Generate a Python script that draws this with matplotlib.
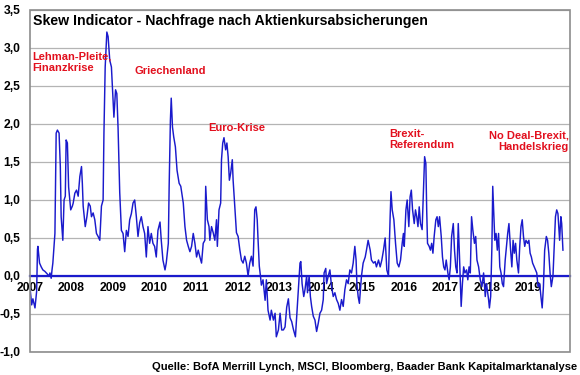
import matplotlib
matplotlib.use("Agg")
import matplotlib.pyplot as plt
from matplotlib.patches import Rectangle
from matplotlib.ticker import FuncFormatter

# Zeitachse in Dezimaljahren, Werte des Skew Indicators
jahr = [
    2007.00, 2007.04, 2007.07, 2007.12, 2007.16, 2007.18, 2007.19, 2007.23, 2007.27, 2007.31,
    2007.36, 2007.41, 2007.46, 2007.48, 2007.51, 2007.53, 2007.55, 2007.60, 2007.63, 2007.66,
    2007.70, 2007.73, 2007.75, 2007.79, 2007.82, 2007.85, 2007.87, 2007.90, 2007.93, 2007.98,
    2008.02, 2008.04, 2008.08, 2008.12, 2008.16, 2008.20, 2008.24, 2008.26, 2008.28, 2008.33,
    2008.37, 2008.41, 2008.45, 2008.48, 2008.52, 2008.56, 2008.60, 2008.64, 2008.68, 2008.72,
    2008.76, 2008.78, 2008.81, 2008.85, 2008.88, 2008.92, 2008.96, 2009.00, 2009.02, 2009.06,
    2009.09, 2009.12, 2009.16, 2009.20, 2009.24, 2009.28, 2009.32, 2009.36, 2009.40, 2009.44,
    2009.48, 2009.52, 2009.56, 2009.60, 2009.64, 2009.68, 2009.72, 2009.76, 2009.80, 2009.84,
    2009.88, 2009.92, 2009.96, 2010.00, 2010.04, 2010.08, 2010.13, 2010.16, 2010.20, 2010.25,
    2010.28, 2010.33, 2010.35, 2010.38, 2010.40, 2010.43, 2010.46, 2010.50, 2010.54, 2010.59,
    2010.63, 2010.69, 2010.73, 2010.77, 2010.81, 2010.85, 2010.89, 2010.93, 2010.97, 2011.01,
    2011.05, 2011.09, 2011.13, 2011.17, 2011.21, 2011.23, 2011.27, 2011.31, 2011.33, 2011.37,
    2011.41, 2011.45, 2011.49, 2011.51, 2011.55, 2011.59, 2011.61, 2011.64, 2011.67, 2011.71,
    2011.74, 2011.77, 2011.80, 2011.83, 2011.87, 2011.89, 2011.93, 2011.97, 2012.01, 2012.05,
    2012.09, 2012.13, 2012.17, 2012.21, 2012.25, 2012.29, 2012.33, 2012.37, 2012.41, 2012.44,
    2012.47, 2012.49, 2012.52, 2012.55, 2012.57, 2012.61, 2012.66, 2012.69, 2012.73, 2012.78,
    2012.81, 2012.86, 2012.90, 2012.93, 2012.98, 2013.02, 2013.06, 2013.10, 2013.14, 2013.18,
    2013.22, 2013.26, 2013.30, 2013.34, 2013.39, 2013.46, 2013.50, 2013.52, 2013.55, 2013.59,
    2013.62, 2013.66, 2013.68, 2013.72, 2013.75, 2013.78, 2013.82, 2013.86, 2013.90, 2013.94,
    2013.98, 2014.02, 2014.06, 2014.08, 2014.12, 2014.14, 2014.18, 2014.22, 2014.26, 2014.30,
    2014.34, 2014.38, 2014.42, 2014.46, 2014.50, 2014.54, 2014.58, 2014.62, 2014.66, 2014.70,
    2014.74, 2014.78, 2014.82, 2014.85, 2014.87, 2014.90, 2014.93, 2014.96, 2014.98, 2015.02,
    2015.07, 2015.10, 2015.14, 2015.19, 2015.22, 2015.27, 2015.31, 2015.34, 2015.39, 2015.43,
    2015.47, 2015.51, 2015.55, 2015.59, 2015.63, 2015.67, 2015.69, 2015.72, 2015.76, 2015.80,
    2015.84, 2015.88, 2015.92, 2015.96, 2015.99, 2016.01, 2016.05, 2016.08, 2016.12, 2016.15,
    2016.18, 2016.21, 2016.25, 2016.28, 2016.31, 2016.34, 2016.37, 2016.40, 2016.44, 2016.47,
    2016.50, 2016.53, 2016.55, 2016.57, 2016.61, 2016.64, 2016.67, 2016.70, 2016.73, 2016.77,
    2016.80, 2016.83, 2016.86, 2016.90, 2016.93, 2016.96, 2016.99, 2017.02, 2017.06, 2017.09,
    2017.12, 2017.15, 2017.19, 2017.22, 2017.25, 2017.28, 2017.31, 2017.34, 2017.38, 2017.41,
    2017.44, 2017.47, 2017.51, 2017.54, 2017.57, 2017.60, 2017.63, 2017.66, 2017.70, 2017.73,
    2017.76, 2017.80, 2017.84, 2017.88, 2017.92, 2017.96, 2017.99, 2018.04, 2018.06, 2018.09,
    2018.12, 2018.14, 2018.17, 2018.19, 2018.22, 2018.25, 2018.28, 2018.31, 2018.34, 2018.37,
    2018.40, 2018.44, 2018.47, 2018.50, 2018.53, 2018.57, 2018.60, 2018.63, 2018.66, 2018.69,
    2018.72, 2018.76, 2018.79, 2018.82, 2018.85, 2018.88, 2018.91, 2018.94, 2018.98, 2019.01,
    2019.04, 2019.07, 2019.10, 2019.14, 2019.17, 2019.20, 2019.23, 2019.27, 2019.30, 2019.33,
    2019.36, 2019.39, 2019.43, 2019.46, 2019.49, 2019.52, 2019.55, 2019.59, 2019.62, 2019.65,
    2019.68, 2019.71, 2019.75, 2019.78, 2019.80, 2019.83,
]
skew = [
    -0.15, -0.38, -0.30, -0.42, -0.20, 0.35, 0.39, 0.17, 0.12, 0.08,
    0.06, 0.03, 0.00, 0.04, -0.03, 0.08, 0.17, 0.56, 1.88, 1.92,
    1.88, 1.44, 0.78, 0.47, 1.00, 1.05, 1.79, 1.75, 1.17, 0.87,
    0.92, 0.96, 1.09, 1.13, 1.05, 1.31, 1.44, 1.22, 0.92, 0.65,
    0.78, 0.96, 0.92, 0.78, 0.83, 0.74, 0.56, 0.52, 0.47, 0.92,
    1.00, 1.88, 2.75, 3.21, 3.15, 2.84, 2.75, 2.32, 2.09, 2.45,
    2.40, 1.95, 1.10, 0.60, 0.56, 0.32, 0.60, 0.52, 0.74, 0.82,
    0.96, 1.00, 0.78, 0.52, 0.70, 0.78, 0.65, 0.56, 0.25, 0.65,
    0.43, 0.56, 0.43, 0.39, 0.25, 0.60, 0.71, 0.47, 0.21, 0.08,
    0.17, 0.43, 1.18, 2.05, 2.34, 1.96, 1.83, 1.70, 1.39, 1.22,
    1.18, 0.96, 0.65, 0.47, 0.39, 0.32, 0.39, 0.56, 0.43, 0.25,
    0.34, 0.25, 0.17, 0.43, 0.47, 1.18, 0.74, 0.65, 0.47, 0.65,
    0.57, 0.47, 0.74, 0.39, 0.87, 0.96, 1.53, 1.75, 1.82, 1.66,
    1.75, 1.57, 1.26, 1.35, 1.53, 1.26, 0.91, 0.57, 0.52, 0.35,
    0.21, 0.17, 0.26, 0.17, 0.00, 0.17, 0.26, 0.13, 0.87, 0.91,
    0.74, 0.48, 0.13, -0.01, -0.12, -0.05, -0.32, -0.05, -0.45, -0.58,
    -0.45, -0.58, -0.49, -0.80, -0.71, -0.49, -0.71, -0.71, -0.67, -0.41,
    -0.30, -0.55, -0.60, -0.70, -0.80, -0.18, 0.17, 0.19, -0.10, -0.27,
    -0.18, 0.00, -0.22, 0.00, -0.27, -0.40, -0.53, -0.58, -0.73, -0.62,
    -0.49, -0.45, -0.31, 0.04, 0.10, -0.10, 0.00, 0.08, -0.14, -0.27,
    -0.22, -0.31, -0.36, -0.45, -0.31, -0.40, -0.18, -0.05, -0.10, 0.08,
    0.04, 0.17, 0.39, 0.21, -0.10, -0.27, -0.36, -0.14, 0.00, 0.17,
    0.25, 0.34, 0.47, 0.34, 0.21, 0.17, 0.19, 0.12, 0.21, 0.12,
    0.21, 0.34, 0.50, 0.08, 0.00, 0.78, 1.11, 0.87, 0.74, 0.43,
    0.17, 0.12, 0.21, 0.43, 0.56, 0.39, 0.87, 1.00, 0.65, 1.04,
    1.13, 0.87, 0.69, 0.87, 0.78, 0.65, 0.91, 0.69, 0.61, 1.09,
    1.57, 1.48, 0.87, 0.43, 0.39, 0.34, 0.43, 0.30, 0.52, 0.74,
    0.78, 0.65, 0.78, 0.52, 0.25, 0.12, 0.08, 0.21, 0.04, -0.05,
    0.12, 0.52, 0.69, 0.34, 0.12, 0.04, 0.69, 0.25, -0.40, -0.10,
    0.12, 0.04, 0.08, -0.05, 0.12, 0.04, 0.78, 0.61, 0.43, 0.52,
    0.21, 0.12, -0.05, -0.14, 0.04, -0.27, -0.10, -0.31, -0.42, -0.27,
    0.39, 1.18, 0.74, 0.47, 0.56, 0.34, 0.56, 0.12, 0.04, -0.10,
    -0.14, 0.21, 0.39, 0.56, 0.69, 0.34, 0.12, 0.47, 0.30, 0.43,
    0.21, 0.04, 0.39, 0.65, 0.74, 0.52, 0.39, 0.47, 0.43, 0.47,
    0.30, 0.25, 0.17, 0.12, 0.08, 0.04, -0.14, -0.10, -0.27, -0.42,
    -0.14, 0.34, 0.52, 0.47, 0.30, 0.04, -0.14, 0.00, 0.39, 0.78,
    0.87, 0.82, 0.47, 0.78, 0.69, 0.34,
]

jahre = list(range(2007, 2020))
y_ticks = [-1.0, -0.5, 0.0, 0.5, 1.0, 1.5, 2.0, 2.5, 3.0, 3.5]

# Ereignis-Beschriftungen: (Text, x, y, Ausrichtung)
ereignisse = [
    ("Lehman-Pleite,\nFinanzkrise", 2007.05, 2.95, "left"),
    ("Griechenland", 2009.52, 2.76, "left"),
    ("Euro-Krise", 2011.28, 2.01, "left"),
    ("Brexit-\nReferendum", 2015.65, 1.94, "left"),
    ("No Deal-Brexit,\nHandelskrieg", 2019.97, 1.91, "right"),
]

plt.rcParams["font.family"] = ["Liberation Sans", "DejaVu Sans"]
plt.rcParams["font.weight"] = "bold"

blau = "#1a1acc"
rot = "#e2101e"
grau = "#8c8c8c"

fig = plt.figure(figsize=(5.8, 3.75), dpi=100)
ax = fig.add_axes([30 / 580, 23 / 375, 540 / 580, 342 / 375])

ax.plot(jahr, skew, color=blau, linewidth=1.05, zorder=3)

ax.set_xlim(2007, 2020)
ax.set_ylim(-1.0, 3.5)
ax.set_yticks(y_ticks)
ax.yaxis.set_major_formatter(FuncFormatter(lambda v, p: f"{v:.1f}".replace(".", ",")))
ax.set_xticks(jahre)
ax.set_xticklabels([str(j) for j in jahre])
ax.tick_params(axis="both", length=0, labelsize=8.7)
ax.tick_params(axis="y", pad=7)
ax.tick_params(axis="x", pad=4)
ax.grid(axis="y", color="#b4b4b4", linewidth=0.9, zorder=0)

# Nulllinie als x-Achse
for s in ["top", "right", "left"]:
    ax.spines[s].set_visible(False)
ax.spines["bottom"].set_position(("data", 0))
ax.spines["bottom"].set_color(blau)
ax.spines["bottom"].set_linewidth(1.6)
ax.spines["bottom"].set_zorder(4)

rahmen = Rectangle((0, 0), 1, 1, transform=ax.transAxes, fill=False,
                   edgecolor=grau, linewidth=1.2, clip_on=False, zorder=5)
ax.add_patch(rahmen)

ax.text(2007.07, 3.36, "Skew Indicator - Nachfrage nach Aktienkursabsicherungen",
        fontsize=10.15, fontweight="bold", color="black", va="center", ha="left")

for text, x, y, ha in ereignisse:
    ax.text(x, y, text, color=rot, fontsize=8, fontweight="bold",
            ha=ha, va="top", linespacing=1.15, multialignment=ha)

fig.text(577 / 580, 1 - 367 / 375,
         "Quelle: BofA Merrill Lynch, MSCI, Bloomberg, Baader Bank Kapitalmarktanalyse",
         fontsize=8, fontweight="bold", ha="right", va="center")

fig.savefig("out.png", dpi=100)
